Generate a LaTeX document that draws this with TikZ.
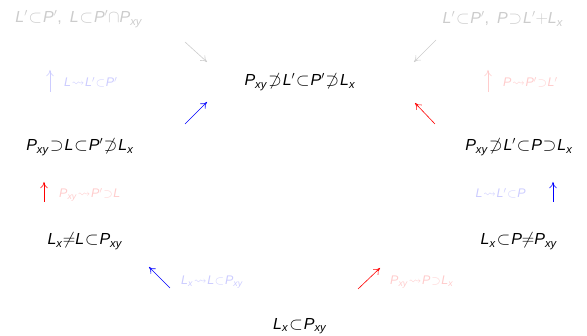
\documentclass[tikz,border=0pt]{standalone}
\usepackage{amsmath}
\usepackage{amssymb}
\usepackage{fontspec}
\setmainfont{Liberation Sans}
\usepackage{tikz}
\usetikzlibrary{arrows.meta,calc,positioning}
\definecolor{paleblue}{rgb}{0.80,0.80,1.00}
\definecolor{palered}{rgb}{1.00,0.80,0.80}
\definecolor{palegray}{rgb}{0.80,0.80,0.80}
\newcommand{\vL}{\textit{L}}
\newcommand{\vP}{\textit{P}}
\newcommand{\vLp}{\textit{L}$'$}
\newcommand{\vPp}{\textit{P}$'$}
\newcommand{\vLx}{\textit{L}\textsubscript{\textit{x}}}
\newcommand{\vPxy}{\textit{P}\textsubscript{\textit{xy}}}
\newcommand{\rel}[1]{\hspace{.06em}$#1$\hspace{.06em}}
\newcommand{\sub}{\rel{\subset}}
\newcommand{\sups}{\rel{\supset}}
\newcommand{\nsups}{\rel{\not\supset}}
\newcommand{\lto}{\rel{\leadsto}}
\tikzset{
  estado/.style={
    align=center,
    inner sep=2pt,
    font=\fontsize{16}{19}\selectfont
  },
  gris/.style={
    estado,
    text=palegray,
    font=\fontsize{16}{19}\selectfont
  },
  etiq/.style={
    inner sep=1pt,
    font=\fontsize{12.5}{15}\selectfont
  },
  flecha/.style={
    -{To[length=2.2mm,width=2.6mm]},
    line width=.6pt
  }
}

\begin{document}
\begin{tikzpicture}[x=1pt,y=1pt]
\useasboundingbox (0,0) rectangle (587,336);
% estados
\node[gris] (gi) at (79,317) {\vLp\sub\vPp,\enspace\vL\sub\vPp$\cap$\vPxy};
\node[gris] (gd) at (503,317) {\vLp\sub\vPp,\enspace\vP\sups\vLp$+$\vLx};
\node[estado] (arr) at (300,254) {\vPxy\nsups\vLp\sub\vPp\nsups\vLx};
\node[estado] (izq) at (80,189) {\vPxy\sups\vL\sub\vPp\nsups\vLx};
\node[estado] (der) at (519,189) {\vPxy\nsups\vLp\sub\vP\sups\vLx};
\node[estado] (abi) at (85,95) {\vLx$\neq$\vL\sub\vPxy};
\node[estado] (abd) at (519,95) {\vLx\sub\vP$\neq$\vPxy};
\node[estado] (ab) at (300,10) {\vLx\sub\vPxy};
% extremos de las flechas
\coordinate (g1a) at (185,294); \coordinate (g1b) at (207,274);
\coordinate (g2a) at (436,296); \coordinate (g2b) at (414,274);
\coordinate (u1a) at (50,244);  \coordinate (u1b) at (50,266);
\coordinate (u2a) at (488,244); \coordinate (u2b) at (488,266);
\coordinate (d1a) at (185,212); \coordinate (d1b) at (207,234);
\coordinate (d2a) at (435,212); \coordinate (d2b) at (415,233);
\coordinate (u3a) at (44,134);  \coordinate (u3b) at (44,154);
\coordinate (u4a) at (553,134); \coordinate (u4b) at (553,154);
\coordinate (d3a) at (170,48);  \coordinate (d3b) at (149,69);
\coordinate (d4a) at (358,47);  \coordinate (d4b) at (380,68);
% flechas
\draw[flecha,palegray] (g1a) -- (g1b);
\draw[flecha,palegray] (g2a) -- (g2b);
\draw[flecha,paleblue] (u1a) -- (u1b);
\draw[flecha,palered] (u2a) -- (u2b);
\draw[flecha,blue] (d1a) -- (d1b);
\draw[flecha,red] (d2a) -- (d2b);
\draw[flecha,red] (u3a) -- (u3b);
\draw[flecha,blue] (u4a) -- (u4b);
\draw[flecha,blue] (d3a) -- (d3b);
\draw[flecha,red] (d4a) -- (d4b);
% etiquetas
\node[etiq,text=paleblue,anchor=west] (e1) at (63,254) {\vL\lto\vLp\sub\vPp};
\node[etiq,text=palered,anchor=west] (e2) at (502,254) {\vP\lto\vPp\sups\vLp};
\node[etiq,text=palered,anchor=west] (e3) at (58,141) {\vPxy\lto\vPp\sups\vL};
\node[etiq,text=paleblue,anchor=east] (e4) at (527,143) {\vL\lto\vLp\sub\vP};
\node[etiq,text=paleblue,anchor=west] (e5) at (180,54) {\vLx\lto\vL\sub\vPxy};
\node[etiq,text=palered,anchor=west] (e6) at (389,54) {\vPxy\lto\vP\sups\vLx};
\end{tikzpicture}
\end{document}
